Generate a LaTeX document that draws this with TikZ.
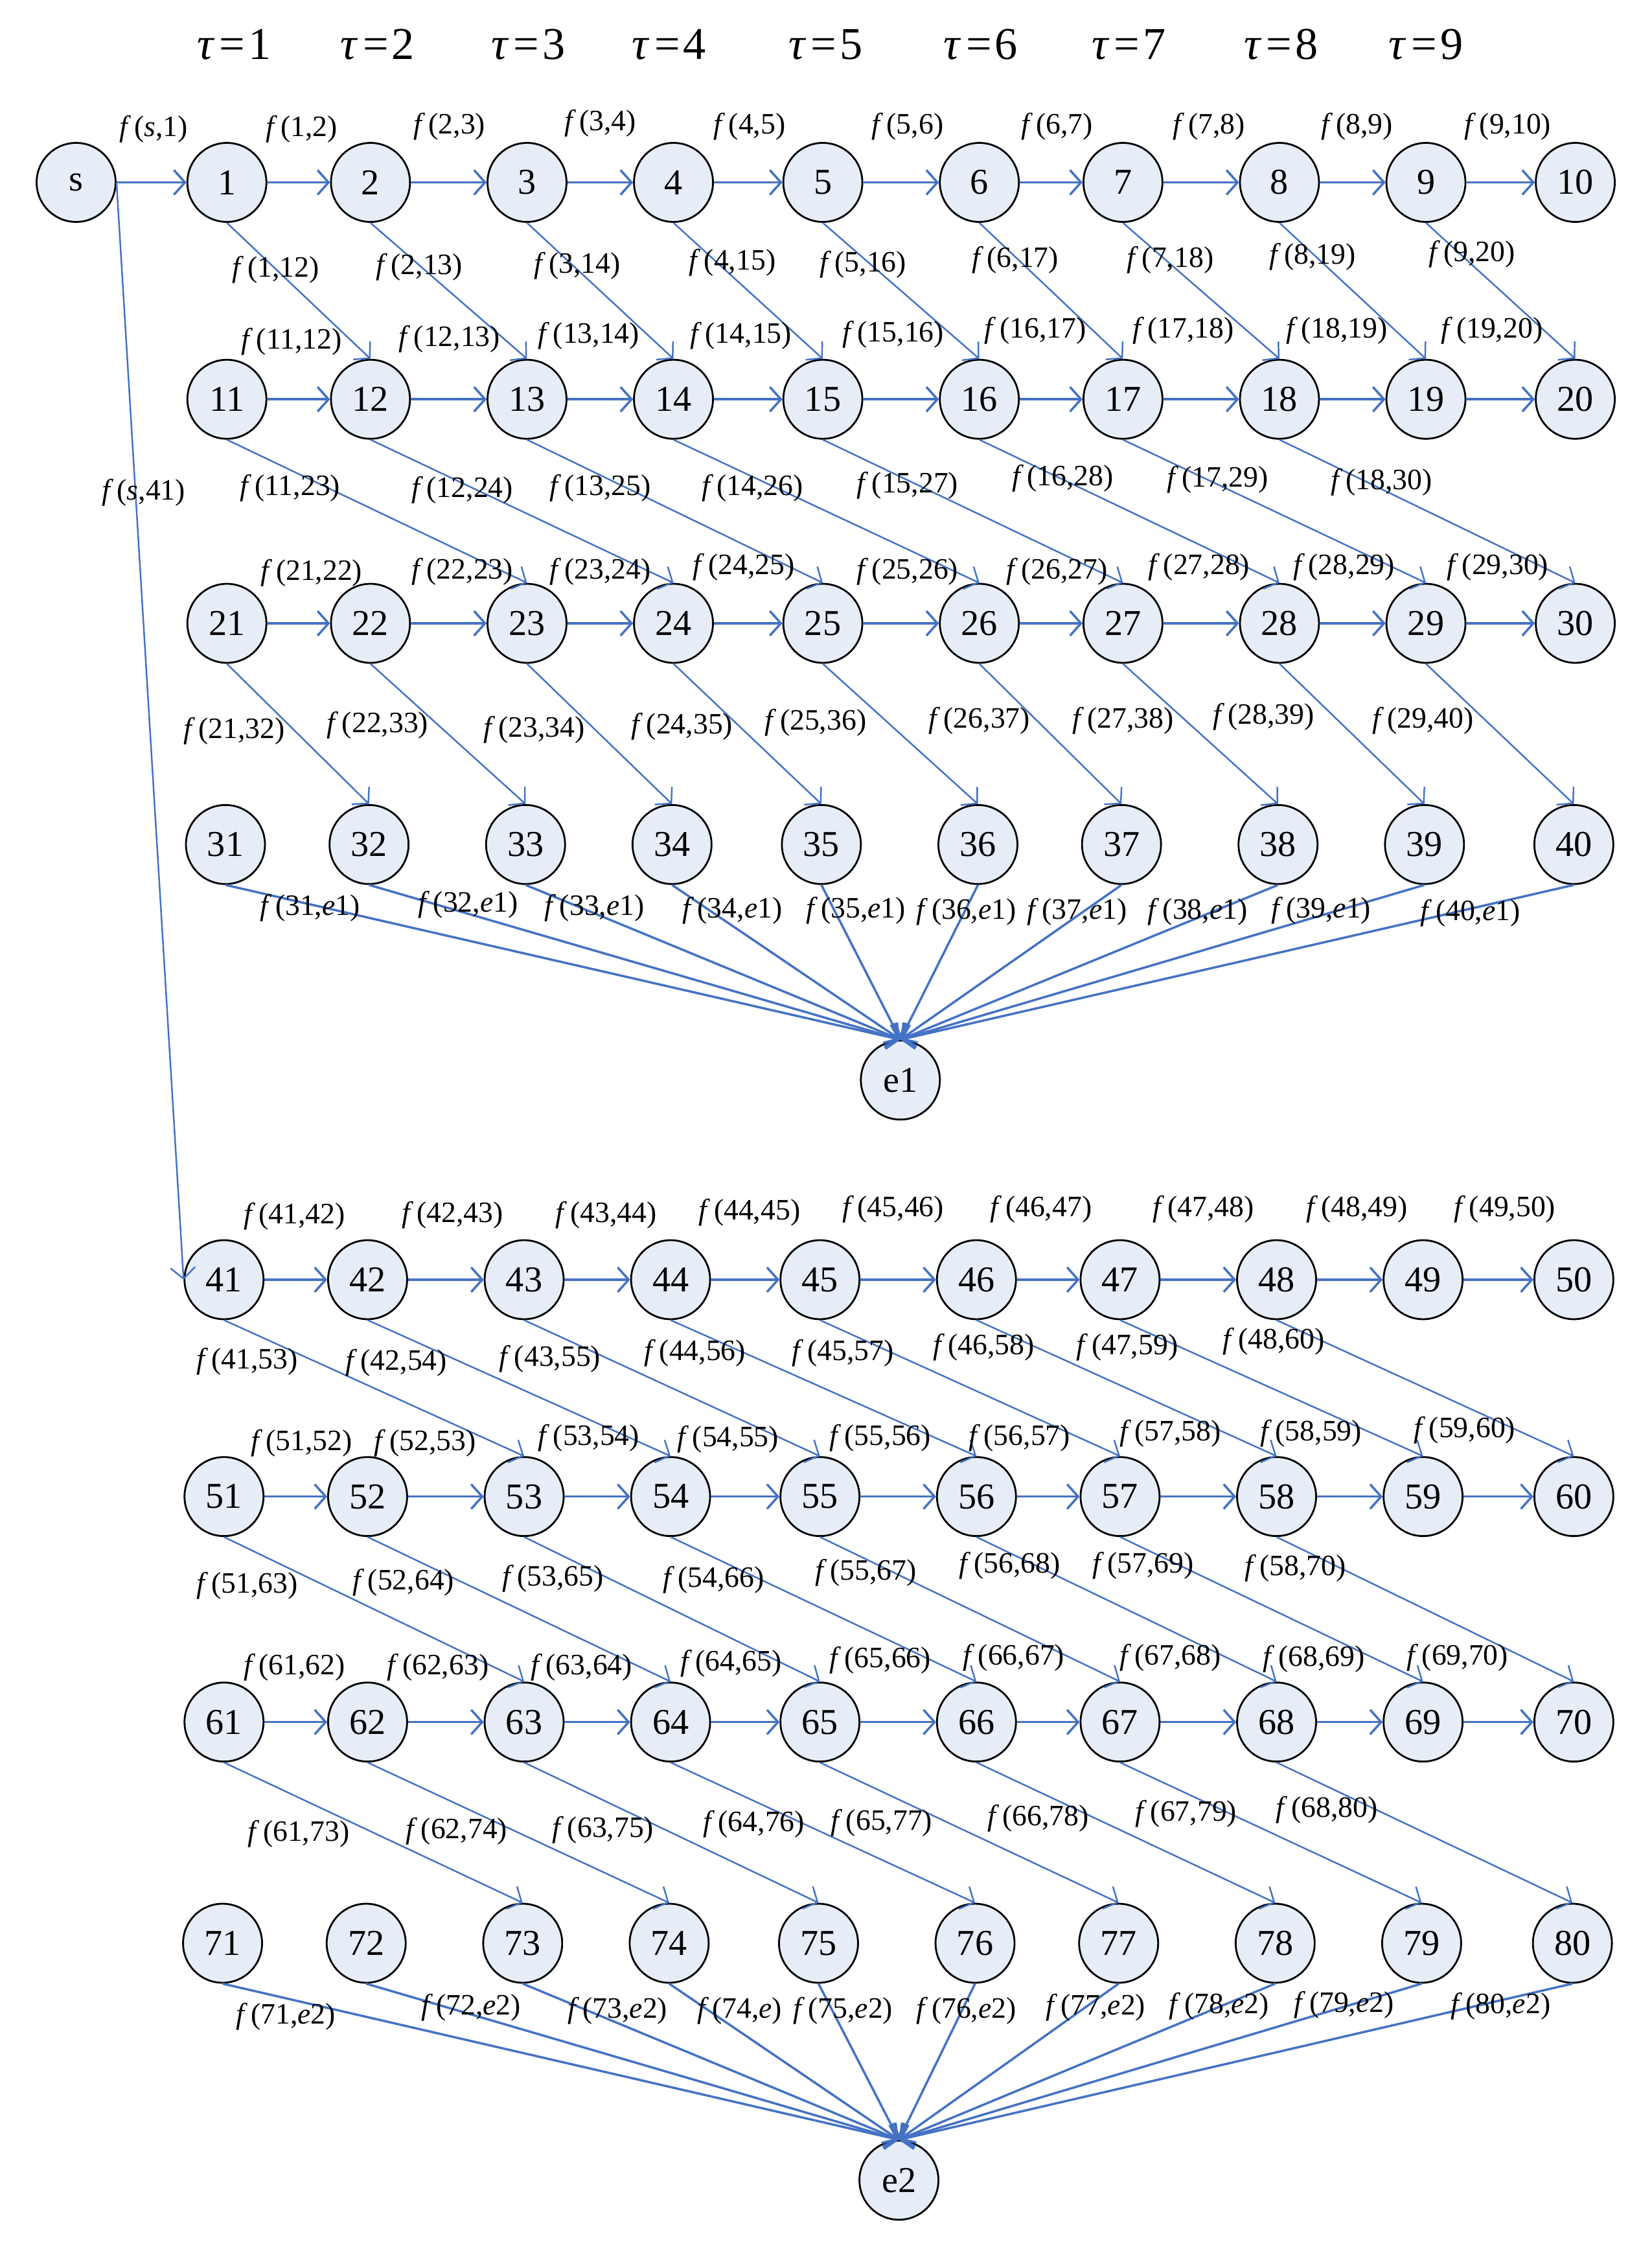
\documentclass[tikz,border=0pt]{standalone}
\usepackage{fontspec}
\setmainfont{Liberation Serif}
\usetikzlibrary{arrows.meta}
\definecolor{edgeblue}{HTML}{4472C4}
\definecolor{nodefill}{HTML}{E6EDF7}
\newcount\labno
\newcommand\flab[3]{\global\advance\labno by 1 \edef\labname{lab\the\labno}\node[lbl] (\labname) at (#1,#2) {\textit{f}\kern1.5pt(#3)};}
\newcommand\vrow[3]{\foreach \xx [count=\cc] in {#3} {\pgfmathtruncatemacro\kk{#1+\cc}\node[vtx] (n\kk) at (\xx,#2) {\kk};}}
\newcommand\E{\textit{e}}
\begin{document}
\begin{tikzpicture}[x=0.022165cm, y=-0.022165cm,
  vtx/.style={circle, draw=black, line width=0.8pt, fill=nodefill, minimum size=1.22cm, inner sep=0pt, font=\fontsize{16}{18}\selectfont},
  lbl/.style={inner sep=0pt, font=\fontsize{13}{15}\selectfont},
  taulbl/.style={inner sep=0pt, font=\fontsize{20}{24}\selectfont},
  edge/.style={draw=edgeblue, line width=0.7pt, -{Straight Barb[length=0.17cm,width=0.38cm]}},
  hedge/.style={edge, line width=1pt}]
\useasboundingbox (0,0) rectangle (1150,1567.3);

% time labels
\foreach \t/\x in {1/163,2/263,3/368,4/466,5/575,6/683,7/786,8/892,9/993}
  \node[taulbl] (tau\t) at (\x,31) {\textit{τ}\kern2pt=\kern1.5pt\t};

% vertices
\node[vtx] (s) at (53,127) {s};
\vrow{0}{127}{158,258,367,469,573,682,782,891,993,1097}
\vrow{10}{278}{158,258,367,469,573,682,782,891,993,1097}
\vrow{20}{434}{158,258,367,469,573,682,782,891,993,1097}
\vrow{30}{588}{157,257,366,468,572,681,781,890,992,1096}
\node[vtx] (e1) at (627,752) {e1};
\vrow{40}{891}{156,256,365,467,571,680,780,889,991,1096}
\vrow{50}{1042}{156,256,365,467,571,680,780,889,991,1096}
\vrow{60}{1199}{156,256,365,467,571,680,780,889,991,1096}
\vrow{70}{1353}{155,255,364,466,570,679,779,888,990,1095}
\node[vtx] (e2) at (626,1518) {e2};

% edges
\draw[hedge] (s) -- (n1);
\draw[edge] (s.east) -- (n41.west);
\foreach \off in {0,10,20,40,50,60}
  \foreach \c in {1,...,9} {
    \pgfmathtruncatemacro\src{\off+\c}\pgfmathtruncatemacro\dst{\off+\c+1}
    \draw[hedge] (n\src) -- (n\dst);}
\foreach \c in {1,...,9} {
  \pgfmathtruncatemacro\src{\c}\pgfmathtruncatemacro\dst{\c+11}
  \draw[edge] (n\src.south) -- (n\dst.north);}
\foreach \c in {1,...,8} {
  \pgfmathtruncatemacro\src{10+\c}\pgfmathtruncatemacro\dst{22+\c}
  \draw[edge] (n\src.south) -- (n\dst.north);}
\foreach \c in {1,...,9} {
  \pgfmathtruncatemacro\src{20+\c}\pgfmathtruncatemacro\dst{31+\c}
  \draw[edge] (n\src.south) -- (n\dst.north);}
\foreach \off in {40,50,60}
  \foreach \c in {1,...,8} {
    \pgfmathtruncatemacro\src{\off+\c}\pgfmathtruncatemacro\dst{\off+\c+12}
    \draw[edge] (n\src.south) -- (n\dst.north);}
\foreach \c in {31,...,40} \draw[hedge] (n\c.south) -- (e1.north);
\foreach \c in {71,...,80} \draw[hedge] (n\c.south) -- (e2.north);

% labels row 1
\flab{107}{90}{\textit{s},1}
\flab{210}{90}{1,2}
\flab{313}{88}{2,3}
\flab{418}{86}{3,4}
\flab{522}{88}{4,5}
\flab{632}{88}{5,6}
\flab{736}{88}{6,7}
\flab{842}{88}{7,8}
\flab{945}{88}{8,9}
\flab{1050}{88}{9,10}
% row1 -> row2
\flab{192}{188}{1,12}
\flab{292}{186}{2,13}
\flab{402}{185}{3,14}
\flab{510}{183}{4,15}
\flab{601}{184}{5,16}
\flab{707}{181}{6,17}
\flab{815}{181}{7,18}
\flab{914}{179}{8,19}
\flab{1025}{177}{9,20}
% row 2
\flab{203}{238}{11,12}
\flab{313}{236}{12,13}
\flab{410}{234}{13,14}
\flab{516}{234}{14,15}
\flab{622}{233}{15,16}
\flab{721}{230}{16,17}
\flab{824}{230}{17,18}
\flab{931}{230}{18,19}
\flab{1039}{230}{19,20}
\flab{100}{343}{\textit{s},41}
% row2 -> row3
\flab{202}{340}{11,23}
\flab{322}{341}{12,24}
\flab{418}{340}{13,25}
\flab{524}{340}{14,26}
\flab{632}{338}{15,27}
\flab{740}{333}{16,28}
\flab{848}{334}{17,29}
\flab{962}{336}{18,30}
% row 3
\flab{217}{399}{21,22}
\flab{322}{398}{22,23}
\flab{418}{398}{23,24}
\flab{518}{395}{24,25}
\flab{632}{398}{25,26}
\flab{736}{398}{26,27}
\flab{835}{395}{27,28}
\flab{936}{395}{28,29}
\flab{1043}{395}{29,30}
% row3 -> row4
\flab{163}{509}{21,32}
\flab{263}{505}{22,33}
\flab{372}{508}{23,34}
\flab{475}{506}{24,35}
\flab{568}{503}{25,36}
\flab{682}{502}{26,37}
\flab{782}{502}{27,38}
\flab{880}{499}{28,39}
\flab{991}{502}{29,40}
% row4 -> e1
\flab{216}{632}{31,\E1}
\flab{326}{630}{32,\E1}
\flab{414}{632}{33,\E1}
\flab{510}{634}{34,\E1}
\flab{596}{634}{35,\E1}
\flab{673}{635}{36,\E1}
\flab{750}{635}{37,\E1}
\flab{834}{635}{38,\E1}
\flab{920}{634}{39,\E1}
\flab{1024}{636}{40,\E1}
% row 5
\flab{205}{847}{41,42}
\flab{315}{846}{42,43}
\flab{422}{846}{43,44}
\flab{522}{844}{44,45}
\flab{622}{842}{45,46}
\flab{725}{842}{46,47}
\flab{838}{842}{47,48}
\flab{945}{842}{48,49}
\flab{1048}{842}{49,50}
% row5 -> row6
\flab{172}{948}{41,53}
\flab{276}{949}{42,54}
\flab{383}{946}{43,55}
\flab{484}{942}{44,56}
\flab{587}{942}{45,57}
\flab{685}{938}{46,58}
\flab{785}{938}{47,59}
\flab{887}{934}{48,60}
% row 6
\flab{210}{1005}{51,52}
\flab{296}{1005}{52,53}
\flab{410}{1001}{53,54}
\flab{507}{1002}{54,55}
\flab{613}{1001}{55,56}
\flab{710}{1001}{56,57}
\flab{815}{998}{57,58}
\flab{913}{998}{58,59}
\flab{1020}{996}{59,60}
% row6 -> row7
\flab{172}{1104}{51,63}
\flab{281}{1102}{52,64}
\flab{385}{1099}{53,65}
\flab{497}{1100}{54,66}
\flab{603}{1095}{55,67}
\flab{703}{1090}{56,68}
\flab{796}{1090}{57,69}
\flab{902}{1092}{58,70}
% row 7
\flab{205}{1161}{61,62}
\flab{305}{1161}{62,63}
\flab{405}{1161}{63,64}
\flab{509}{1158}{64,65}
\flab{613}{1156}{65,66}
\flab{706}{1154}{66,67}
\flab{815}{1154}{67,68}
\flab{915}{1155}{68,69}
\flab{1015}{1154}{69,70}
% row7 -> row8
\flab{208}{1277}{61,73}
\flab{318}{1275}{62,74}
\flab{420}{1274}{63,75}
\flab{525}{1270}{64,76}
\flab{614}{1269}{65,77}
\flab{723}{1266}{66,78}
\flab{826}{1263}{67,79}
\flab{924}{1260}{68,80}
% row8 -> e2
\flab{199}{1404}{71,\E2}
\flab{328}{1398}{72,\E2}
\flab{430}{1400}{73,\E2}
\flab{515}{1400}{74,\E}
\flab{587}{1400}{75,\E2}
\flab{673}{1400}{76,\E2}
\flab{763}{1398}{77,\E2}
\flab{849}{1397}{78,\E2}
\flab{936}{1396}{79,\E2}
\flab{1045}{1397}{80,\E2}
\end{tikzpicture}
\end{document}
